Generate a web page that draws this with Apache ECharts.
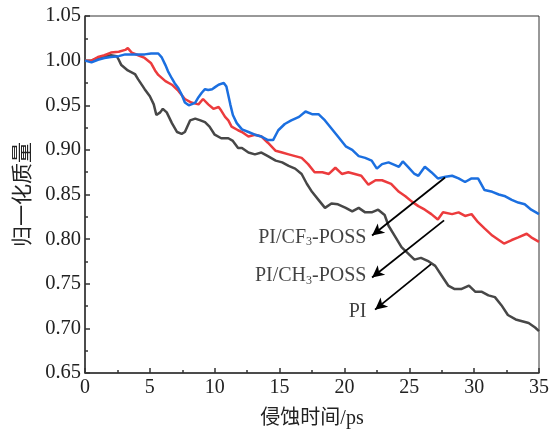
<!DOCTYPE html>
<html>
<head>
<meta charset="utf-8">
<script src="https://cdn.jsdelivr.net/npm/echarts@6/dist/echarts.min.js"></script>
<style>
  html, body { margin: 0; padding: 0; background: #fff; }
  #chart { width: 556px; height: 434px; }
</style>
</head>
<body>
<div id="chart"></div>
<script>
// 归一化质量 vs 侵蚀时间
const piData = [[0,1.000],[0.5,1.000],[1.0,1.003],[1.5,1.004],[2.0,1.006],[2.45,1.005],[2.6,1.001],[2.8,0.995],[3.3,0.989],[3.85,0.985],[4.1,0.979],[4.6,0.968],[5.0,0.960],[5.3,0.951],[5.5,0.939],[5.8,0.942],[6.0,0.946],[6.3,0.942],[6.7,0.930],[7.1,0.920],[7.45,0.918],[7.7,0.920],[8.1,0.933],[8.5,0.935],[8.9,0.933],[9.25,0.931],[9.6,0.926],[10.0,0.917],[10.5,0.913],[11.05,0.913],[11.4,0.910],[11.8,0.902],[12.1,0.902],[12.6,0.897],[13.1,0.895],[13.6,0.897],[14.1,0.893],[14.7,0.888],[15.2,0.886],[15.7,0.882],[16.2,0.879],[16.7,0.873],[17.1,0.862],[17.5,0.853],[18.0,0.844],[18.5,0.835],[19.0,0.840],[19.5,0.839],[20.1,0.835],[20.6,0.831],[21.1,0.835],[21.6,0.830],[22.1,0.830],[22.6,0.833],[23.1,0.827],[23.4,0.815],[23.9,0.803],[24.4,0.791],[24.9,0.784],[25.4,0.777],[25.9,0.779],[26.5,0.775],[27.0,0.770],[27.5,0.759],[28.0,0.748],[28.5,0.744],[29.0,0.744],[29.6,0.748],[30.1,0.741],[30.6,0.741],[31.1,0.737],[31.6,0.735],[32.1,0.726],[32.6,0.715],[33.2,0.710],[33.7,0.708],[34.2,0.706],[34.7,0.701],[35,0.697]]
const ch3Data = [[0,1.000],[0.5,1.000],[1.0,1.004],[1.5,1.006],[2.0,1.009],[2.6,1.010],[3.1,1.012],[3.3,1.014],[3.6,1.009],[4.1,1.006],[4.6,1.003],[5.1,0.997],[5.4,0.989],[5.65,0.984],[6.2,0.977],[6.7,0.973],[7.2,0.966],[7.7,0.957],[8.2,0.953],[8.75,0.951],[9.1,0.957],[9.5,0.951],[9.9,0.946],[10.3,0.948],[10.5,0.944],[10.8,0.937],[11.05,0.933],[11.3,0.926],[11.8,0.922],[12.1,0.920],[12.6,0.915],[13.1,0.917],[13.6,0.915],[14.1,0.908],[14.7,0.899],[15.2,0.897],[15.7,0.895],[16.2,0.893],[16.7,0.891],[17.2,0.884],[17.7,0.875],[18.3,0.875],[18.8,0.873],[19.3,0.880],[19.8,0.873],[20.3,0.875],[20.8,0.873],[21.3,0.871],[21.85,0.861],[22.4,0.866],[22.9,0.866],[23.6,0.862],[24.2,0.853],[24.7,0.848],[25.2,0.842],[25.7,0.837],[26.2,0.833],[26.7,0.828],[27.2,0.822],[27.6,0.830],[28.3,0.828],[28.8,0.830],[29.3,0.826],[29.8,0.828],[30.3,0.819],[30.8,0.812],[31.4,0.804],[31.9,0.799],[32.3,0.795],[32.9,0.799],[33.4,0.802],[34.05,0.806],[34.4,0.802],[35,0.797]]
const cf3Data = [[0,1.000],[0.5,0.998],[1.0,1.001],[1.5,1.003],[2.0,1.004],[2.6,1.005],[3.1,1.007],[3.6,1.007],[4.1,1.007],[4.6,1.007],[5.1,1.008],[5.65,1.008],[5.9,1.004],[6.2,0.995],[6.4,0.988],[6.7,0.980],[6.9,0.975],[7.2,0.969],[7.45,0.962],[7.7,0.953],[8.0,0.950],[8.2,0.951],[8.5,0.953],[8.75,0.959],[9.0,0.964],[9.25,0.968],[9.5,0.967],[9.8,0.968],[10.0,0.970],[10.3,0.973],[10.7,0.975],[10.9,0.971],[11.2,0.951],[11.4,0.939],[11.7,0.930],[12.1,0.923],[12.6,0.920],[13.1,0.917],[13.6,0.915],[14.1,0.911],[14.5,0.911],[14.9,0.922],[15.4,0.929],[15.9,0.933],[16.5,0.937],[17.0,0.943],[17.5,0.940],[18.0,0.940],[18.5,0.933],[19.0,0.924],[19.5,0.915],[20.1,0.904],[20.6,0.900],[21.1,0.893],[21.6,0.891],[22.1,0.888],[22.5,0.879],[22.9,0.884],[23.4,0.886],[23.9,0.883],[24.2,0.881],[24.5,0.887],[24.9,0.881],[25.4,0.873],[25.7,0.871],[26.2,0.881],[26.7,0.875],[27.2,0.868],[27.8,0.870],[28.3,0.871],[28.8,0.868],[29.3,0.864],[29.8,0.868],[30.3,0.868],[30.8,0.855],[31.4,0.853],[31.9,0.850],[32.4,0.848],[32.9,0.844],[33.4,0.841],[33.9,0.839],[34.4,0.833],[35,0.828]]

// annotation labels and arrows (tail on curve -> head at label)
const labelTexts = ['PI/CF{s|3}-POSS', 'PI/CH{s|3}-POSS', 'PI']
const labelPos = [[21.7, 0.802], [21.7, 0.759], [21.7, 0.719]]
const arrows = [
  [[27.76, 0.869], [22.13, 0.804]],
  [[27.68, 0.821], [22.13, 0.757]],
  [[26.68, 0.772], [22.36, 0.721]]
]

const serif = '"Liberation Serif", "Times New Roman", "Noto Sans CJK SC", serif'
const chart = echarts.init(document.getElementById('chart'))

function lineSeries (name, data, color) {
  return {
    name: name,
    type: 'line',
    data: data,
    showSymbol: false,
    symbol: 'none',
    lineStyle: { color: color, width: 2.5 },
    itemStyle: { color: color },
    animation: false
  }
}

chart.setOption({
  animation: false,
  grid: { left: 85, right: 17, top: 16, bottom: 51, show: true, borderColor: '#333', borderWidth: 1 },
  xAxis: {
    type: 'value',
    min: 0,
    max: 35,
    interval: 5,
    name: '侵蚀时间/ps',
    nameLocation: 'middle',
    nameGap: 36,
    nameTextStyle: { fontFamily: serif, fontSize: 20, color: '#222' },
    axisLine: { lineStyle: { color: '#333', width: 1.5 } },
    axisTick: { inside: true, length: 5, lineStyle: { color: '#333', width: 1.5 } },
    minorTick: { show: true, splitNumber: 2, length: 3, lineStyle: { color: '#333', width: 1.5 } },
    axisLabel: { fontFamily: serif, fontSize: 20, color: '#222', margin: 5 },
    splitLine: { show: false }
  },
  yAxis: {
    type: 'value',
    min: 0.65,
    max: 1.05,
    interval: 0.05,
    name: '归一化质量',
    nameLocation: 'middle',
    nameGap: 48,
    nameTextStyle: { fontFamily: serif, fontSize: 21, color: '#222' },
    axisLine: { show: true, lineStyle: { color: '#333', width: 1.5 } },
    axisTick: { show: true, inside: true, length: 5, lineStyle: { color: '#333', width: 1.5 } },
    minorTick: { show: true, splitNumber: 2, length: 3, lineStyle: { color: '#333', width: 1.5 } },
    axisLabel: { fontFamily: serif, fontSize: 20.5, color: '#222', margin: 4, formatter: v => v.toFixed(2) },
    splitLine: { show: false }
  },
  series: [
    lineSeries('PI', piData, '#474747'),
    lineSeries('PI/CH3-POSS', ch3Data, '#ec3b3d'),
    lineSeries('PI/CF3-POSS', cf3Data, '#1b6fe0'),
    {
      type: 'scatter',
      data: labelPos.map((p, i) => ({ value: p, text: labelTexts[i] })),
      symbolSize: 0,
      silent: true,
      label: {
        show: true,
        position: 'left',
        distance: 0,
        formatter: p => p.data.text,
        fontFamily: serif,
        fontSize: 20,
        color: '#111',
        rich: {
          s: { fontFamily: serif, fontSize: 12, color: '#111', padding: [10, 0, 0, 0] }
        }
      },
      markLine: {
        silent: true,
        symbol: ['none', 'arrow'],
        symbolSize: [9, 12],
        label: { show: false },
        lineStyle: { color: '#000', width: 1.8, type: 'solid' },
        data: arrows.map(a => [{ coord: a[0] }, { coord: a[1] }])
      }
    }
  ]
})
</script>
</body>
</html>
